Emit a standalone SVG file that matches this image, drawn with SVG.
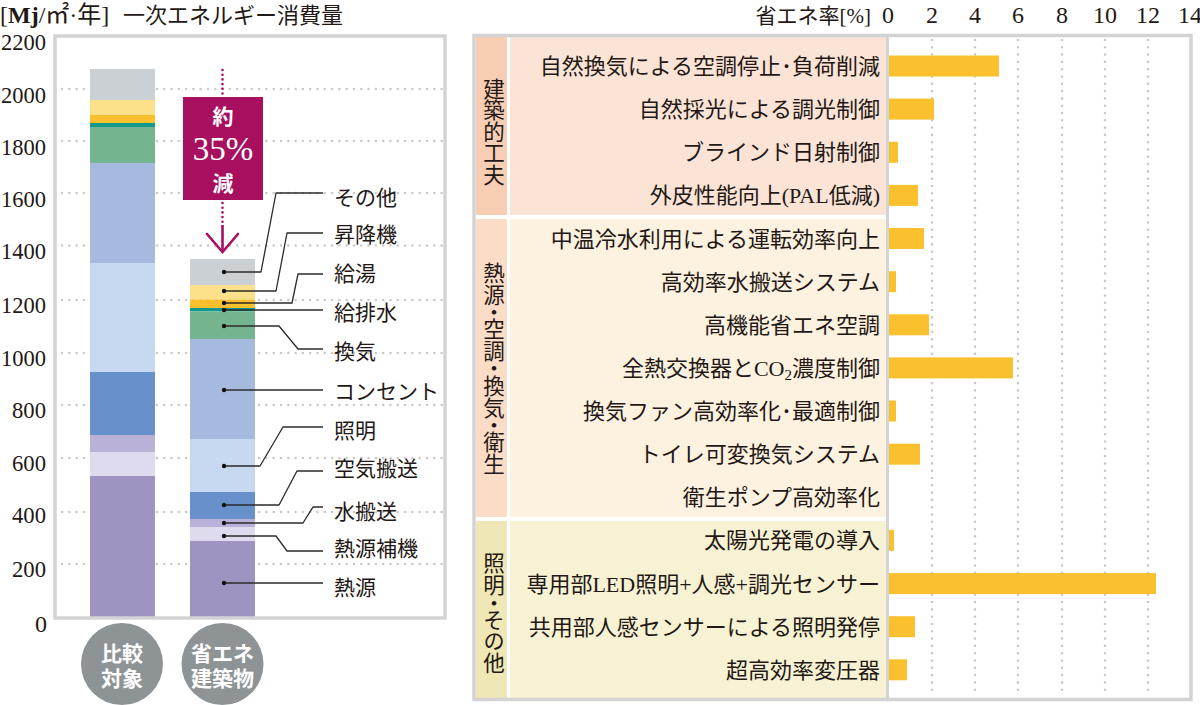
<svg xmlns="http://www.w3.org/2000/svg" width="1200" height="705" viewBox="0 0 1200 705">
<style>
.jp{font-family:"Liberation Serif","Noto Sans CJK JP",sans-serif;fill:#231815}
.num{font-family:"Liberation Serif",serif;fill:#231815;font-size:24px}
.lbl{font-size:21px}
.rl{font-size:22px;text-anchor:end}
.cat{font-size:21.5px;text-anchor:middle;writing-mode:vertical-rl}
.wb{fill:#fff;font-weight:bold;text-anchor:middle;font-size:21px}
.grid{stroke:#c9c9c9;stroke-width:2.6;stroke-linecap:round;stroke-dasharray:0 7.3;fill:none}
.frame{fill:none;stroke:#d3d3d3;stroke-width:3.5}
.lead{fill:none;stroke:#2b2b2b;stroke-width:1.3;stroke-linejoin:round}
.dot{fill:#111}
.bar{fill:#fbc02d}
.c-gray{fill:#cbd0d5}.c-ly{fill:#fde08a}.c-y{fill:#fbc02d}.c-teal{fill:#12998b}.c-green{fill:#74b590}
.c-b2{fill:#a6badf}.c-lb{fill:#c6d9f1}.c-mb{fill:#6890ca}.c-lav{fill:#bab1d9}.c-pale{fill:#dfdbee}.c-pur{fill:#9f93c1}
</style>

<!-- LEFT CHART -->
<g id="left-title">
<text class="jp" x="0" y="23" font-size="24">[<tspan font-weight="bold">Mj</tspan>/㎡·年]</text>
<text class="jp" x="123" y="23" font-size="22">一次エネルギー消費量</text>
</g>

<g id="left-frame">
<rect x="55" y="36" width="390" height="582" fill="#fff"/>
<g class="grid">
<line x1="62" y1="89" x2="443" y2="89"/>
<line x1="62" y1="141" x2="443" y2="141"/>
<line x1="62" y1="193" x2="443" y2="193"/>
<line x1="62" y1="245.5" x2="443" y2="245.5"/>
<line x1="62" y1="300" x2="443" y2="300"/>
<line x1="62" y1="353" x2="443" y2="353"/>
<line x1="62" y1="405" x2="443" y2="405"/>
<line x1="62" y1="458" x2="443" y2="458"/>
<line x1="62" y1="512" x2="443" y2="512"/>
<line x1="62" y1="564" x2="443" y2="564"/>
</g>
</g>

<g id="left-axis" class="num" text-anchor="end">
<text x="46" y="50" textLength="45" lengthAdjust="spacingAndGlyphs">2200</text>
<text x="46" y="103" textLength="45" lengthAdjust="spacingAndGlyphs">2000</text>
<text x="46" y="155" textLength="45" lengthAdjust="spacingAndGlyphs">1800</text>
<text x="46" y="207" textLength="45" lengthAdjust="spacingAndGlyphs">1600</text>
<text x="46" y="259" textLength="45" lengthAdjust="spacingAndGlyphs">1400</text>
<text x="46" y="313" textLength="45" lengthAdjust="spacingAndGlyphs">1200</text>
<text x="46" y="366" textLength="45" lengthAdjust="spacingAndGlyphs">1000</text>
<text x="46" y="418" textLength="34" lengthAdjust="spacingAndGlyphs">800</text>
<text x="46" y="471" textLength="34" lengthAdjust="spacingAndGlyphs">600</text>
<text x="46" y="523" textLength="34" lengthAdjust="spacingAndGlyphs">400</text>
<text x="46" y="577" textLength="34" lengthAdjust="spacingAndGlyphs">200</text>
<text x="47" y="632">0</text>
</g>

<g id="bar-compare">
<rect class="c-gray" x="90" y="69" width="65" height="31"/>
<rect class="c-ly" x="90" y="100" width="65" height="15"/>
<rect class="c-y" x="90" y="115" width="65" height="8"/>
<rect class="c-teal" x="90" y="123" width="65" height="4"/>
<rect class="c-green" x="90" y="127" width="65" height="36"/>
<rect class="c-b2" x="90" y="163" width="65" height="100"/>
<rect class="c-lb" x="90" y="263" width="65" height="109"/>
<rect class="c-mb" x="90" y="372" width="65" height="63"/>
<rect class="c-lav" x="90" y="435" width="65" height="17"/>
<rect class="c-pale" x="90" y="452" width="65" height="24"/>
<rect class="c-pur" x="90" y="476" width="65" height="142"/>
</g>

<g id="bar-eco">
<rect class="c-gray" x="190" y="259" width="65" height="26"/>
<rect class="c-ly" x="190" y="285" width="65" height="14.5"/>
<rect class="c-y" x="190" y="299.5" width="65" height="8.5"/>
<rect class="c-teal" x="190" y="308" width="65" height="3.5"/>
<rect class="c-green" x="190" y="311.5" width="65" height="27.5"/>
<rect class="c-b2" x="190" y="339" width="65" height="100"/>
<rect class="c-lb" x="190" y="439" width="65" height="53"/>
<rect class="c-mb" x="190" y="492" width="65" height="27"/>
<rect class="c-lav" x="190" y="519" width="65" height="8"/>
<rect class="c-pale" x="190" y="527" width="65" height="14"/>
<rect class="c-pur" x="190" y="541" width="65" height="77"/>
</g>

<rect class="frame" x="55" y="36" width="390" height="582"/>

<g id="reduction">
<g stroke="#a80f5f" stroke-width="2.6" stroke-linecap="round" fill="none">
<line x1="222.5" y1="70" x2="222.5" y2="94" stroke-dasharray="0 4.7"/>
<line x1="222.5" y1="203" x2="222.5" y2="222" stroke-dasharray="0 4.7"/>
<line x1="222.5" y1="225" x2="222.5" y2="252" stroke-linecap="butt"/>
<polyline points="207,234 222.5,252 238,234" stroke-linejoin="miter"/>
</g>
<rect x="183" y="97" width="80" height="103" fill="#a80f5f"/>
<text class="jp wb" x="223" y="124" font-size="20">約</text>
<text x="223" y="160" font-family="Liberation Serif" font-size="33" fill="#fff" text-anchor="middle">35%</text>
<text class="jp wb" x="223" y="191" font-size="20">減</text>
</g>

<g id="connectors" class="lead">
<path d="M224,272 H261 L276,193 H323"/>
<path d="M224,291 H276 L287,233 H323"/>
<path d="M224,303 H292 L298,274 H323"/>
<path d="M224,310 H323"/>
<path d="M224,326 H279 L298,349 H323"/>
<path d="M224,390 H323"/>
<path d="M224,466 H260 L283,427 H323"/>
<path d="M224,505 H279 L297,471 H323"/>
<path d="M224,523 H303 L313,507 H323"/>
<path d="M224,536 H276 L287,551 H323"/>
<path d="M224,583 H323"/>
</g>
<g id="leader-dots" class="dot">
<circle cx="224" cy="272" r="2.2"/><circle cx="224" cy="291" r="2.2"/><circle cx="224" cy="303" r="2.2"/>
<circle cx="224" cy="310" r="2.2"/><circle cx="224" cy="326" r="2.2"/><circle cx="224" cy="390" r="2.2"/>
<circle cx="224" cy="466" r="2.2"/><circle cx="224" cy="505" r="2.2"/><circle cx="224" cy="523" r="2.2"/>
<circle cx="224" cy="536" r="2.2"/><circle cx="224" cy="583" r="2.2"/>
</g>
<g id="legend" class="jp lbl">
<text x="334" y="205">その他</text>
<text x="334" y="242">昇降機</text>
<text x="334" y="281">給湯</text>
<text x="334" y="320">給排水</text>
<text x="334" y="359">換気</text>
<text x="334" y="399">コンセント</text>
<text x="334" y="438">照明</text>
<text x="334" y="476">空気搬送</text>
<text x="334" y="519">水搬送</text>
<text x="334" y="556">熱源補機</text>
<text x="334" y="595">熱源</text>
</g>

<g id="label-compare">
<circle cx="122" cy="664" r="41" fill="#8e9496"/>
<text class="jp wb" x="122" y="661">比較</text>
<text class="jp wb" x="122" y="686">対象</text>
</g>
<g id="label-eco">
<circle cx="222.5" cy="664" r="41" fill="#8e9496"/>
<text class="jp wb" x="222.5" y="661">省エネ</text>
<text class="jp wb" x="222.5" y="686">建築物</text>
</g>

<!-- RIGHT CHART -->
<g id="right-header">
<text class="jp" x="871" y="23" font-size="21" text-anchor="end">省エネ率[%]</text>
<g class="num" text-anchor="middle" font-size="23">
<text x="888" y="23">0</text><text x="932" y="23">2</text><text x="975" y="23">4</text><text x="1018" y="23">6</text>
<text x="1062" y="23">8</text><text x="1105" y="23">10</text><text x="1148" y="23">12</text><text x="1190" y="23">14</text>
</g>
</g>

<g id="right-frame">
<rect x="474" y="35.5" width="717" height="664" fill="#fff"/>
<rect x="476" y="37" width="31" height="178" fill="#f7cdb4"/>
<rect x="510" y="37" width="376" height="178" fill="#fbe4d6"/>
<rect x="476" y="219" width="31" height="298" fill="#fbdcc7"/>
<rect x="510" y="219" width="376" height="298" fill="#fdf1df"/>
<rect x="476" y="521" width="31" height="177" fill="#efe8b6"/>
<rect x="510" y="521" width="376" height="177" fill="#f7f2d3"/>
<g class="grid">
<line x1="932" y1="40" x2="932" y2="697"/><line x1="975" y1="40" x2="975" y2="697"/>
<line x1="1018" y1="40" x2="1018" y2="697"/><line x1="1062" y1="40" x2="1062" y2="697"/>
<line x1="1105" y1="40" x2="1105" y2="697"/><line x1="1148" y1="40" x2="1148" y2="697"/>
</g>
<line x1="887.5" y1="36" x2="887.5" y2="699" stroke="#d3d3d3" stroke-width="3"/>
<rect class="frame" x="474" y="35.5" width="717" height="664"/>
</g>

<g id="cat-building">
<text class="jp cat" x="491.5" y="131.5">建築的工夫</text>
</g>
<g id="cat-heat">
<text class="jp cat" x="491.5" y="368">熱<tspan letter-spacing="-4">源・</tspan>空<tspan letter-spacing="-4">調・</tspan>換<tspan letter-spacing="-4">気・</tspan>衛生</text>
</g>
<g id="cat-light">
<text class="jp cat" x="491.5" y="613">照<tspan letter-spacing="-4">明・</tspan>その他</text>
</g>

<g id="measures" class="jp rl">
<text x="880" y="74">自然換気による空調停止･負荷削減</text>
<text x="880" y="117">自然採光による調光制御</text>
<text x="880" y="160">ブラインド日射制御</text>
<text x="880" y="203">外皮性能向上(PAL低減)</text>
<text x="880" y="247">中温冷水利用による運転効率向上</text>
<text x="880" y="290">高効率水搬送システム</text>
<text x="880" y="333">高機能省エネ空調</text>
<text x="880" y="376">全熱交換器とCO<tspan font-size="15" dy="4">2</tspan><tspan dy="-4">濃度制御</tspan></text>
<text x="880" y="419">換気ファン高効率化･最適制御</text>
<text x="880" y="462">トイレ可変換気システム</text>
<text x="880" y="505">衛生ポンプ高効率化</text>
<text x="880" y="548">太陽光発電の導入</text>
<text x="880" y="592">専用部LED照明+人感+調光センサー</text>
<text x="880" y="635">共用部人感センサーによる照明発停</text>
<text x="880" y="678">超高効率変圧器</text>
</g>

<g id="savings-bars">
<rect class="bar" x="889" y="55.5" width="110" height="21"/>
<rect class="bar" x="889" y="98.6" width="45" height="21"/>
<rect class="bar" x="889" y="141.8" width="9" height="21"/>
<rect class="bar" x="889" y="184.9" width="29" height="21"/>
<rect class="bar" x="889" y="228" width="35" height="21"/>
<rect class="bar" x="889" y="271.2" width="7" height="21"/>
<rect class="bar" x="889" y="314.3" width="40" height="21"/>
<rect class="bar" x="889" y="357.4" width="124" height="21"/>
<rect class="bar" x="889" y="400.5" width="7" height="21"/>
<rect class="bar" x="889" y="443.7" width="31" height="21"/>
<rect class="bar" x="889" y="529.9" width="5" height="21"/>
<rect class="bar" x="889" y="573.1" width="267" height="21"/>
<rect class="bar" x="889" y="616.2" width="26" height="21"/>
<rect class="bar" x="889" y="659.3" width="18" height="21"/>
</g>
</svg>
